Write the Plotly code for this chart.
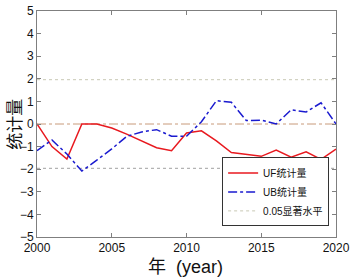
import plotly.graph_objects as go

years = list(range(2000, 2021))
uf = [0.0, -1.0, -1.55, 0.0, 0.0, -0.18, -0.45, -0.75, -1.05, -1.18,
      -0.4, -0.3, -0.75, -1.26, -1.35, -1.43, -1.15, -1.47, -1.23, -1.57, -1.11]
ub = [-1.18, -0.71, -1.33, -2.08, -1.6, -1.1, -0.55, -0.35, -0.25, -0.54,
      -0.54, 0.1, 1.03, 0.96, 0.15, 0.17, 0.0, 0.63, 0.53, 0.94, 0.0]
sig = 1.96
xticks = [2000, 2005, 2010, 2015, 2020]
yticks = [-5, -4, -3, -2, -1, 0, 1, 2, 3, 4, 5]

fig = go.Figure()
fig.add_trace(go.Scatter(x=[years[0], years[-1]], y=[0, 0], mode="lines",
                         showlegend=False,
                         line=dict(color="#c89a7a", width=1, dash="dashdot")))
fig.add_trace(go.Scatter(x=[years[0], years[-1]], y=[-sig, -sig], mode="lines",
                         showlegend=False,
                         line=dict(color="#a0a0a0", width=1, dash="dot")))
fig.add_trace(go.Scatter(x=[years[0], years[-1]], y=[sig, sig], mode="lines",
                         name="0.05显著水平", legendrank=3,
                         line=dict(color="#c8c8b4", width=1, dash="dot")))
fig.add_trace(go.Scatter(x=years, y=uf, mode="lines", name="UF统计量", legendrank=1,
                         line=dict(color="#e8191f", width=1.5)))
fig.add_trace(go.Scatter(x=years, y=ub, mode="lines", name="UB统计量", legendrank=2,
                         line=dict(color="#1a1acf", width=1.5, dash="dashdot")))

axis_common = dict(showgrid=False, zeroline=False, showline=True, linecolor="#7f7f7f",
                   linewidth=1, mirror="ticks", ticks="inside", ticklen=4,
                   tickcolor="#7f7f7f", ticklabeloverflow="allow",
                   tickfont=dict(family="Liberation Sans, Arial", size=12, color="#111"))

fig.update_layout(
    width=354, height=278,
    margin=dict(l=37, r=11, t=4, b=41),
    paper_bgcolor="white", plot_bgcolor="white",
    xaxis=dict(range=[2000, 2020], tickvals=xticks, **axis_common),
    yaxis=dict(range=[-5, 5], tickvals=yticks, **axis_common),
    legend=dict(x=0.977, y=0.047, xanchor="right", yanchor="bottom",
                bgcolor="white", bordercolor="#333", borderwidth=1,
                font=dict(family="Liberation Sans, Noto Sans CJK SC", size=10, color="#111"),
                tracegroupgap=0, itemwidth=30),
    showlegend=True,
    annotations=[
        dict(text="年\u00a0\u00a0(year)", xref="paper", yref="paper", x=0.495, y=-0.133,
             xanchor="center", yanchor="middle", showarrow=False,
             font=dict(family="Liberation Sans, Noto Sans CJK SC", size=18, color="#111")),
        dict(text="统计量", xref="paper", yref="paper", x=-0.081, y=0.5,
             xanchor="center", yanchor="middle", showarrow=False, textangle=-90,
             font=dict(family="Noto Sans CJK SC", size=17, color="#111")),
    ],
)
fig.write_html("out.html", config={"displayModeBar": False},
               post_script="document.body.style.margin='0';document.body.style.padding='0';")
